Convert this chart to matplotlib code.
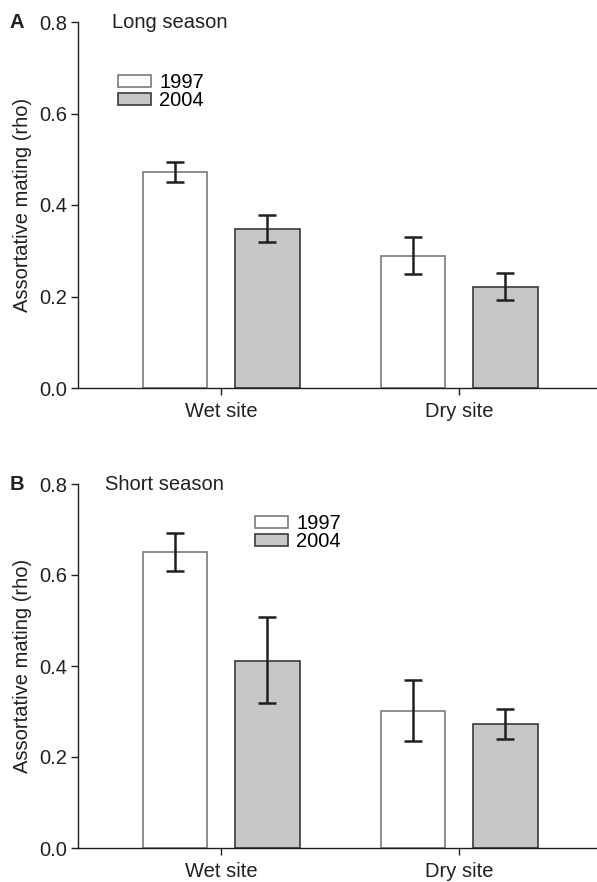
import matplotlib
matplotlib.use("Agg")
import matplotlib.pyplot as plt
import numpy as np
from matplotlib.patches import Patch

plt.rcParams['font.family'] = ['Liberation Sans', 'DejaVu Sans']

sites = ["Wet site", "Dry site"]
years = ["1997", "2004"]

long_1997 = [0.472, 0.289]
long_1997_lo = [0.450, 0.249]
long_1997_hi = [0.494, 0.329]
long_2004 = [0.348, 0.221]
long_2004_lo = [0.319, 0.192]
long_2004_hi = [0.379, 0.251]

short_1997 = [0.651, 0.302]
short_1997_lo = [0.609, 0.235]
short_1997_hi = [0.692, 0.370]
short_2004 = [0.412, 0.273]
short_2004_lo = [0.318, 0.240]
short_2004_hi = [0.507, 0.305]

yticks = [0.0, 0.2, 0.4, 0.6, 0.8]
ytick_labels = ["0.0", "0.2", "0.4", "0.6", "0.8"]

W, H = 597, 882
fig = plt.figure(figsize=(W / 100, H / 100), dpi=100)

fill_1997 = "white"
fill_2004 = "#c6c7c9"
edge_1997 = "#7a7a7a"
edge_2004 = "#3a3a3a"
err_col = "#231f20"
fs = 14.5


def rect_y_top(rect):
    return (1 - (rect[1] + rect[3])) * H


def panel(rect, v97, lo97, hi97, v04, lo04, hi04, letter, title, title_x, leg_xy):
    ax = fig.add_axes(rect)
    x = np.arange(len(sites))
    w = 0.271
    off = 0.194
    ax.bar(x - off, v97, width=w, color=fill_1997, edgecolor=edge_1997, linewidth=1.2, zorder=2)
    ax.bar(x + off, v04, width=w, color=fill_2004, edgecolor=edge_2004, linewidth=1.2, zorder=2)
    for xs, v, lo, hi in [(x - off, v97, lo97, hi97), (x + off, v04, lo04, hi04)]:
        v = np.array(v); lo = np.array(lo); hi = np.array(hi)
        ax.errorbar(xs, v, yerr=[v - lo, hi - v], fmt='none', ecolor=err_col,
                    elinewidth=1.8, capsize=6.8, capthick=1.8, zorder=3)
    ax.set_xlim(-0.602, 1.579)
    ax.set_ylim(0, 0.8)
    ax.set_yticks(yticks)
    ax.set_yticklabels(ytick_labels)
    ax.set_xticks(x)
    ax.set_xticklabels(sites)
    for s in ["top", "right"]:
        ax.spines[s].set_visible(False)
    for s in ["left", "bottom"]:
        ax.spines[s].set_linewidth(1.0)
        ax.spines[s].set_color("#231f20")
    ax.tick_params(axis='both', direction='out', length=5, width=1.0, labelsize=fs,
                   colors="#231f20", pad=3)
    ax.tick_params(axis='x', pad=5)
    ax.set_ylabel("Assortative mating (rho)", fontsize=fs, color="#231f20", labelpad=5)
    ax.text(title_x, 0.8, title, fontsize=fs, color="#231f20", va='center', ha='left',
            transform=ax.transData)
    fig.text(10 / W, 1 - (rect_y_top(rect)) / H, letter, fontsize=fs, fontweight='bold',
             color="#231f20", va='center', ha='left')
    handles = [Patch(facecolor=fill_1997, edgecolor=edge_1997, linewidth=1.2, label=years[0]),
               Patch(facecolor=fill_2004, edgecolor=edge_2004, linewidth=1.2, label=years[1])]
    ax.legend(handles=handles, loc='upper left', bbox_to_anchor=leg_xy,
              bbox_transform=fig.transFigure, frameon=False, fontsize=fs,
              handlelength=1.65, handleheight=0.5, handletextpad=0.4,
              labelspacing=-0.05, borderpad=0, borderaxespad=0)
    return ax


left = 78 / W
width = 1 - left
r1 = [left, 1 - 388 / H, width, (388 - 22) / H]
r2 = [left, 1 - 848 / H, width, (848 - 484) / H]

panel(r1, long_1997, long_1997_lo, long_1997_hi, long_2004, long_2004_lo, long_2004_hi,
      "A", "Long season", -0.46, (118 / W, 1 - 73 / H))
panel(r2, short_1997, short_1997_lo, short_1997_hi, short_2004, short_2004_lo, short_2004_hi,
      "B", "Short season", -0.49, (255 / W, 1 - 514 / H))

fig.savefig("out.png", dpi=100)
